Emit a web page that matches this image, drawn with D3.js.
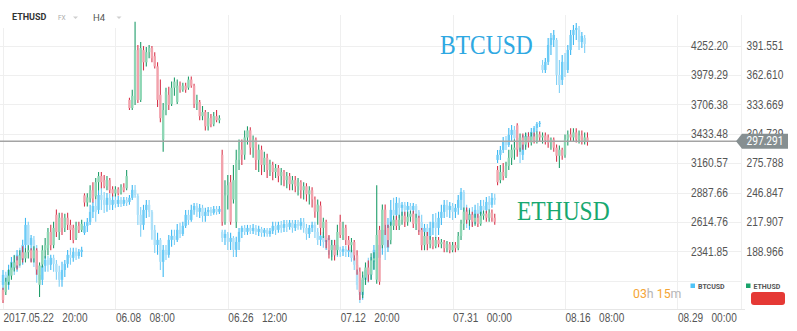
<!DOCTYPE html>
<meta charset="utf-8">
<style>
body { margin: 0; background: #fff; }
svg { display: block; font-family: Roboto, "Noto Sans", sans-serif; }
.grid line { stroke: #efefef; stroke-width: 1; shape-rendering: crispEdges; }
.axis text { fill: #555; font-size: 12px; white-space: pre; }
.axis .domain { display: none; }
</style>
<body>
<svg width="797" height="331"></svg>
<script src="https://cdn.jsdelivr.net/npm/d3@7"></script>
<script>

// x axis: bar index of each label
let xTickIndex = [0, 40, 80, 120, 160, 200, 240];
let xLabels = ['2017.05.22   20:00', '06.08   08:00', '06.26   12:00', '07.12   20:00',
               '07.31   00:00', '08.16   08:00', '08.29   00:00'];

let btcTicks = [4252.20, 3979.29, 3706.38, 3433.48, 3160.57, 2887.66, 2614.76, 2341.85];
let ethTicks = [391.551, 362.610, 333.669, 304.729, 275.788, 246.847, 217.907, 188.966];
let lastPrice = 297.291;

// [open, high, low, close]
let eth = [
  [151,153,138,141],[149,163,146,159],[159,171,156,165],[165,178,161,173],[173,185,169,178],
  [180,184,171,175],[176,190,175,185],[188,194,178,182],[182,192,178,188],[188,195,182,190],
  [190,192,178,182],[182,194,178,190],[190,192,166,171],[156,178,144,175],[176,195,173,190],
  [190,202,182,195],[192,212,185,208],[208,215,190,195],[195,218,192,212],[225,230,203,208],
  [208,227,200,222],[222,227,205,212],[212,226,208,222],[222,227,210,215],[215,220,200,210],
  [212,215,197,200],[202,218,200,214],[214,218,207,210],[210,220,208,216],[244,246,233,237],
  [237,246,233,242],[241,254,237,249],[249,257,237,241],[243,261,240,257],[257,267,249,263],
  [263,267,251,257],[259,264,251,253],[253,263,249,259],[259,261,246,249],[250,253,243,246],
  [246,253,243,250],[250,252,244,246],[247,255,245,252],[252,256,247,249],[251,269,249,263],
  [338,340,328,330],[330,348,328,342],[338,415,333,387],[387,392,335,338],[338,395,336,389],
  [387,391,367,375],[375,390,371,385],[385,392,379,389],[389,391,375,379],[381,385,369,371],
  [371,375,331,338],[343,358,316,320],[299,335,287,328],[328,350,323,346],[343,351,328,333],
  [334,356,332,350],[350,360,342,356],[336,358,334,352],[352,356,345,348],[348,355,346,352],
  [352,355,345,348],[350,361,348,358],[358,361,350,352],[352,354,330,334],[334,343,328,338],
  [336,338,318,322],[322,332,318,326],[326,328,308,312],[312,326,308,320],[320,324,311,314],
  [314,326,312,322],[322,328,316,318],[318,323,315,320],
  [284,289,214,218],[218,259,215,244],[244,264,230,254],[257,264,215,218],[240,274,236,259],
  [218,289,212,279],[279,299,269,289],[289,299,274,284],[284,308,279,301],[301,312,294,308],
  [308,311,284,291],[291,303,281,299],[299,301,269,279],[279,294,267,289],[289,293,264,274],
  [274,287,267,281],[281,285,261,269],[269,279,263,275],[274,277,259,267],[267,275,261,271],
  [271,274,257,263],[263,271,254,267],[267,269,253,259],[259,267,251,263],[263,266,249,255],
  [255,263,249,259],[259,263,247,253],[253,261,244,257],[257,259,241,249],[249,257,240,253],
  [253,256,238,245],[245,253,235,249],[249,252,232,240],[240,243,222,228],[228,240,215,235],
  [234,238,205,212],[212,222,202,218],[218,220,192,200],[200,205,182,190],[190,200,180,195],
  [195,200,180,185],[190,215,185,208],[218,225,202,205],[205,218,200,212],[212,215,195,200],
  [200,204,190,195],[195,202,188,198],[198,200,180,185],[185,190,166,171],[169,173,141,149],
  [149,169,143,163],[163,178,156,173],[173,180,159,166],[166,187,161,180],[180,188,171,182],
  [161,254,157,205],[210,214,156,159],[195,235,192,230],[230,235,205,215],[212,215,193,200],
  [200,218,196,214],[214,224,210,220],[220,224,210,214],[214,225,210,220],[220,228,215,224],
  [224,228,213,218],[218,228,214,223],[223,229,218,226],[226,229,212,216],[216,226,210,222],
  [222,224,205,210],[210,212,190,195],[195,208,190,204],[204,208,190,196],[196,204,192,200],
  [200,203,191,194],[194,203,192,200],[200,203,193,196],[196,201,192,198],[198,200,188,192],
  [192,199,188,196],[196,198,187,190],[190,198,188,195],[195,198,188,192],[192,208,190,204],
  [204,220,200,216],[216,232,210,228],[228,232,216,220],[220,230,214,225],[225,228,213,218],
  [218,226,214,222],[222,226,213,216],[216,228,214,224],[224,229,220,226],[226,229,218,222],
  [222,230,218,227],[227,230,218,222],[222,226,215,218],
  [269,273,254,257],[259,274,256,267],[267,276,259,263],[263,277,261,273],[273,289,269,281],
  [281,294,274,289],[289,299,279,291],[313,315,282,289],[291,305,287,301],[301,305,289,294],
  [294,306,289,302],[302,306,291,296],[296,306,293,302],[302,306,295,298],[298,307,295,304],
  [304,307,297,301],[301,306,295,303],[303,306,294,298],[301,304,291,296],[296,301,289,299],
  [299,301,287,291],[291,294,277,283],[283,293,271,289],[289,291,279,283],[284,304,281,299],
  [299,308,293,304],[304,310,297,301],[301,310,297,306],[306,310,296,299],[299,308,295,303],
  [303,308,294,297],[297,306,294,301],[301,306,293,297.291]
];

let btc = [
  [2030,2169,1956,2123],[2123,2151,1965,2030],[2030,2216,1984,2169],[2169,2290,2104,2244],[2244,2309,2123,2188],
  [2188,2355,2151,2309],[2309,2374,2188,2262],[2262,2448,2216,2401],[2401,2652,2355,2587],[2587,2615,2327,2401],
  [2401,2494,2244,2466],[2448,2485,2197,2244],[2244,2401,2049,2123],[2123,2169,2012,2077],[2077,2244,2030,2207],
  [2207,2299,2151,2262],[2262,2299,2151,2216],[2216,2309,2169,2281],[2281,2309,2151,2225],[2225,2262,2077,2151],
  [2151,2207,2012,2077],[2077,2244,2012,2169],[2169,2262,2104,2225],[2225,2355,2188,2309],[2309,2374,2216,2281],
  [2281,2374,2244,2336],[2336,2374,2262,2299],[2299,2364,2272,2336],[2336,2383,2290,2355],
  [2513,2615,2494,2578],[2578,2652,2522,2615],[2615,2773,2587,2708],[2708,2800,2652,2763],[2763,2819,2615,2708],
  [2726,2912,2689,2865],[2865,2930,2726,2819],[2819,2893,2698,2773],[2773,2884,2708,2838],[2838,2875,2726,2773],
  [2773,2865,2726,2819],[2819,2865,2745,2782],[2782,2856,2754,2819],[2819,2847,2754,2782],[2782,2847,2763,2819],
  [2819,2847,2763,2791],[2800,2865,2773,2838],[2838,2958,2819,2912],[2912,2958,2838,2865],[2856,2875,2587,2680],
  [2680,2754,2476,2587],[2587,2773,2541,2726],[2726,2819,2652,2773],[2773,2819,2661,2708],[2708,2726,2448,2541],
  [2541,2587,2327,2401],[2401,2513,2309,2448],[2448,2466,2169,2244],[2244,2401,2104,2355],[2355,2401,2262,2309],
  [2309,2494,2281,2448],[2448,2541,2383,2485],[2485,2541,2401,2448],[2448,2596,2429,2541],[2541,2606,2466,2503],
  [2503,2615,2485,2578],[2578,2726,2559,2680],[2680,2726,2587,2633],[2633,2773,2615,2726],[2726,2791,2680,2763],
  [2763,2791,2661,2708],[2708,2782,2652,2745],[2745,2773,2615,2670],[2670,2745,2615,2708],[2708,2754,2670,2726],
  [2726,2754,2670,2698],[2698,2763,2680,2735],[2735,2763,2680,2708],[2708,2763,2689,2735],
  [2522,2541,2429,2466],[2466,2541,2401,2503],[2503,2522,2355,2429],[2429,2513,2355,2466],[2466,2485,2290,2355],
  [2355,2476,2290,2429],[2429,2559,2355,2522],[2522,2578,2466,2559],[2559,2587,2494,2522],[2522,2587,2494,2559],
  [2559,2587,2503,2531],[2531,2596,2503,2559],[2559,2587,2494,2522],[2522,2578,2485,2550],[2550,2568,2476,2513],
  [2513,2559,2476,2541],[2541,2559,2476,2503],[2503,2559,2476,2531],[2531,2615,2503,2578],[2578,2615,2494,2541],
  [2541,2615,2513,2587],[2587,2624,2513,2559],[2559,2633,2522,2596],[2596,2633,2522,2568],[2568,2633,2541,2606],
  [2606,2633,2513,2559],[2559,2633,2531,2596],[2596,2633,2541,2578],[2578,2652,2541,2615],[2615,2652,2513,2559],
  [2559,2596,2448,2503],[2503,2587,2466,2559],[2559,2615,2522,2587],[2587,2615,2466,2522],[2522,2559,2401,2448],
  [2448,2522,2392,2485],[2485,2522,2374,2429],[2429,2503,2355,2466],[2466,2485,2309,2401],[2401,2448,2290,2355],
  [2355,2448,2299,2401],[2401,2448,2290,2355],[2355,2383,2290,2336],[2336,2392,2299,2364],[2364,2392,2290,2336],
  [2336,2383,2290,2355],[2355,2383,2244,2281],[2281,2318,2169,2216],[2216,2244,1984,2030],[2030,2077,1863,1937],
  [1937,2123,1891,2077],[2077,2216,2030,2169],[2169,2281,2049,2123],[2123,2290,2077,2244],[2244,2401,2169,2355],
  [2355,2448,2216,2281],[2281,2476,2188,2401],[2401,2615,2309,2541],[2541,2633,2262,2374],[2374,2652,2336,2587],
  [2587,2819,2541,2726],[2726,2838,2587,2680],[2680,2847,2606,2791],[2791,2838,2652,2745],[2745,2800,2652,2773],
  [2773,2800,2633,2726],[2726,2800,2652,2763],[2763,2791,2652,2726],[2726,2791,2661,2763],[2763,2782,2633,2708],
  [2708,2726,2522,2615],[2615,2680,2476,2522],[2522,2596,2448,2559],[2559,2596,2420,2485],[2485,2615,2448,2559],
  [2559,2689,2494,2615],[2615,2698,2466,2559],[2559,2708,2494,2652],[2652,2773,2587,2708],[2708,2819,2652,2773],
  [2773,2819,2661,2726],[2726,2800,2652,2763],[2763,2791,2633,2708],[2708,2782,2652,2745],[2745,2865,2680,2819],
  [2819,2930,2726,2893],[2893,2912,2661,2726],[2726,2773,2559,2633],[2633,2745,2541,2689],[2689,2754,2578,2652],
  [2652,2773,2596,2726],[2726,2791,2633,2689],[2689,2819,2652,2763],[2763,2819,2670,2726],[2726,2847,2698,2800],
  [2800,2856,2726,2773],[2773,2884,2745,2838],[2838,2875,2773,2819],
  [3190,3283,3162,3237],[3237,3320,3190,3283],[3283,3404,3255,3357],[3357,3413,3283,3329],[3329,3487,3311,3422],
  [3422,3515,3357,3469],[3469,3506,3329,3394],[3394,3441,3283,3329],[3329,3376,3162,3237],[3237,3422,3190,3376],
  [3376,3441,3311,3413],[3413,3450,3320,3376],[3376,3487,3357,3450],[3450,3506,3394,3487],[3487,3543,3450,3524],
  [3524,3552,3496,3534],
  [4072,4118,3998,4025],[4025,4137,3998,4100],[4100,4322,4072,4257],[4257,4369,4165,4322],[4304,4397,4239,4350],
  [4304,4322,3886,3979],[3979,4118,3812,3886],[3933,4165,3886,4100],[4100,4183,3960,4025],[4025,4257,3998,4211],
  [4211,4397,4165,4350],[4350,4443,4257,4397],[4397,4462,4304,4415],[4397,4434,4211,4285],[4285,4378,4230,4341],
  [4322,4350,4183,4267]
];

let svg = d3.select('svg');
let top0 = 45.5, bot7 = 251.3, plotBottom = 309, plotRight = 741;

let x = d3.scaleLinear().domain([0, 240]).range([3, 677.4]);
let yEth = d3.scaleLinear().domain([ethTicks[0], ethTicks[7]]).range([top0, bot7]);
let yBtc = d3.scaleLinear().domain([btcTicks[0], btcTicks[7]]).range([top0, bot7]);

svg.append('rect').attr('width', 797).attr('height', 331).attr('fill', '#fff');

// grid
let grid = svg.append('g').attr('class', 'grid');
let gridVals = ethTicks.concat([ethTicks[7] - (ethTicks[6] - ethTicks[7])]);
grid.selectAll('line.h').data(gridVals).join('line')
  .attr('x1', 0).attr('x2', plotRight)
  .attr('y1', d => Math.round(yEth(d)) + 0.5).attr('y2', d => Math.round(yEth(d)) + 0.5);
grid.selectAll('line.v').data(xTickIndex.map(x).concat([plotRight])).join('line')
  .attr('x1', d => Math.round(d) + 0.5).attr('x2', d => Math.round(d) + 0.5)
  .attr('y1', 15).attr('y2', plotBottom);
svg.append('line').attr('x1', 0).attr('x2', 745).attr('y1', plotBottom + 0.5).attr('y2', plotBottom + 0.5)
  .attr('stroke', '#e6e6e6');

function drawCandles(data, y, c) {
  let g = svg.append('g').selectAll('g').data(data).join('g');
  g.append('line')
    .attr('x1', (d, i) => x(i)).attr('x2', (d, i) => x(i))
    .attr('y1', d => y(d[1])).attr('y2', d => y(d[2]))
    .attr('stroke', d => d[3] >= d[0] ? c.upLine : c.dnLine).attr('stroke-width', 1.1);
  g.append('rect')
    .attr('x', (d, i) => x(i) - 1.2).attr('width', 2.4)
    .attr('y', d => y(Math.max(d[0], d[3])))
    .attr('height', d => Math.max(1, Math.abs(y(d[0]) - y(d[3]))))
    .attr('fill', d => d[3] >= d[0] ? c.upBody : c.dnBody);
}

drawCandles(btc, yBtc, {upLine: '#3db8f2', upBody: '#6ccbf6', dnLine: '#7fd0f6', dnBody: '#aee0f8'});
drawCandles(eth, yEth, {upLine: '#1f9d6a', upBody: '#8dd6b4', dnLine: '#d8364d', dnBody: '#f2a2ac'});

// big series names
svg.append('text').text('BTCUSD')
  .attr('transform', 'translate(440,54) scale(0.87,1)')
  .attr('font-family', '"Liberation Serif", "DejaVu Serif", serif').attr('font-size', 27)
  .attr('fill', '#2ea8e2');
svg.append('text').text('ETHUSD')
  .attr('transform', 'translate(517,220) scale(0.87,1)')
  .attr('font-family', '"Liberation Serif", "DejaVu Serif", serif').attr('font-size', 27)
  .attr('fill', '#17a870');

// axes
let gx = svg.append('g').attr('class', 'axis').attr('transform', `translate(0,${plotBottom})`)
  .call(d3.axisBottom(x).tickValues(xTickIndex).tickFormat((d, i) => xLabels[i]).tickSize(0).tickPadding(4));
gx.selectAll('text').attr('text-anchor', 'start').attr('transform', 'scale(0.84,1)');

let gb = svg.append('g').attr('class', 'axis').attr('transform', 'translate(691,0)')
  .call(d3.axisRight(yBtc).tickValues(btcTicks).tickFormat(d => d.toFixed(2)).tickSize(0).tickPadding(0));
gb.selectAll('text').attr('transform', 'scale(0.85,1)');

let ge = svg.append('g').attr('class', 'axis').attr('transform', 'translate(746.5,0)')
  .call(d3.axisRight(yEth).tickValues(ethTicks).tickFormat(d => d.toFixed(3)).tickSize(0).tickPadding(0));
ge.selectAll('text').attr('transform', 'scale(0.85,1)');

// last price line + tag (covers the lower half of the 304.729 tick, as in the original)
let yl = yEth(lastPrice);
svg.append('line').attr('x1', 0).attr('x2', 737).attr('y1', yl).attr('y2', yl)
  .attr('stroke', '#a4a4a4').attr('stroke-width', 1.5);
svg.append('path')
  .attr('d', `M736,${yl}L742,${yl - 7.5}H788V${yl + 7.5}H742Z`)
  .attr('fill', '#868f91');
svg.append('text').text(lastPrice.toFixed(3))
  .attr('transform', `translate(746.5,${yl}) scale(0.85,1)`)
  .attr('dy', '0.34em').attr('font-size', 12).attr('fill', '#fff');

// header
svg.append('rect').attr('x', 0).attr('y', 0).attr('width', 128).attr('height', 28).attr('fill', '#fff');
svg.append('text').text('ETHUSD').attr('x', 12).attr('y', 20)
  .attr('font-size', 9).attr('font-weight', 'bold').attr('fill', '#333');
svg.append('text').text('FX').attr('x', 58).attr('y', 19.5)
  .attr('font-size', 6.5).attr('fill', '#aaa');
svg.append('text').text('H4').attr('x', 93).attr('y', 20.5)
  .attr('font-size', 9.5).attr('fill', '#555');
svg.selectAll('path.dd').data([73, 116.5]).join('path')
  .attr('d', d => `M${d},16.5h5l-2.5,2.5z`).attr('fill', '#cfcfcf');

// legend
let legend = [{name: 'BTCUSD', color: '#4fc3f7', x: 690.5}, {name: 'ETHUSD', color: '#1aa36b', x: 746}];
let lg = svg.selectAll('g.lg').data(legend).join('g').attr('transform', d => `translate(${d.x},283.5)`);
lg.append('rect').attr('width', 4.5).attr('height', 4.5).attr('fill', d => d.color);
lg.append('text').text(d => d.name).attr('x', 7.5).attr('y', 5)
  .attr('font-size', 7).attr('font-weight', 'bold').attr('fill', '#555');
svg.append('rect').attr('x', 751).attr('y', 292).attr('width', 34).attr('height', 13).attr('rx', 3)
  .attr('fill', '#e53935');

let timer = svg.append('text').attr('transform', 'translate(633,297.5) scale(0.95,1)').attr('font-size', 13);
[['03', '#f5a534'], ['h ', '#b5b5b5'], ['15', '#f5a534'], ['m', '#b5b5b5']].forEach(p => {
  timer.append('tspan').text(p[0]).attr('fill', p[1]).style('white-space', 'pre');
});

</script>
</body>
